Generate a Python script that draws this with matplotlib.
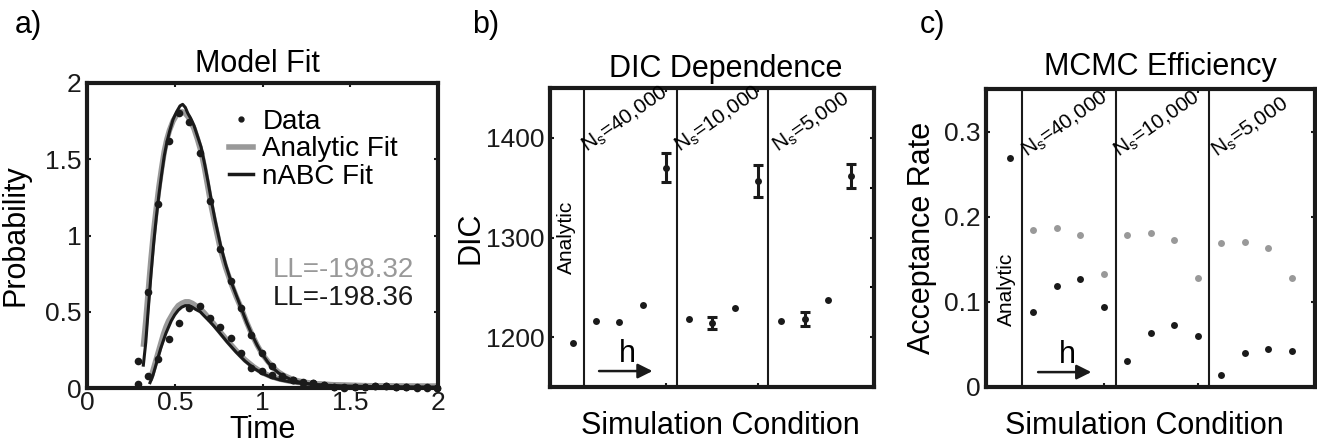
import matplotlib
matplotlib.use("Agg")
import matplotlib.pyplot as plt
import numpy as np

plt.rcParams['font.family'] = ['Liberation Sans', 'DejaVu Sans']
plt.rcParams['mathtext.fontset'] = 'custom'
plt.rcParams['mathtext.rm'] = 'Liberation Sans'

# ---------------- Panel a data ----------------
t_data = [0.289, 0.348, 0.407, 0.466, 0.525, 0.584, 0.642, 0.701, 0.760, 0.819,
          0.878, 0.937, 0.996, 1.055, 1.113, 1.172, 1.231, 1.290, 1.349, 1.408,
          1.467, 1.526, 1.584, 1.643, 1.702, 1.761, 1.820, 1.879, 1.938, 1.997]
upper_data = [0.179, 0.627, 1.207, 1.620, 1.801, 1.742, 1.543, 1.228, 0.914, 0.704,
              0.522, 0.348, 0.232, 0.144, 0.081, 0.053, 0.035, 0.030, 0.019, 0.008,
              0.004, 0.006, 0.004, 0.013, 0.011, 0.006, 0.006, 0.004, 0.004, 0.000]
lower_data = [0.024, 0.079, 0.188, 0.321, 0.424, 0.525, 0.538, 0.457, 0.402, 0.326,
              0.227, 0.133, 0.114, 0.085, 0.074, 0.050, 0.039, 0.033, 0.017, 0.007,
              0.002, 0.006, 0.006, 0.013, 0.013, 0.006, 0.006, 0.002, 0.002, 0.000]

t_up = [0.321, 0.335, 0.348, 0.365, 0.38, 0.395, 0.41, 0.425, 0.44, 0.455, 0.47, 0.49,
        0.51, 0.53, 0.545, 0.56, 0.575, 0.59, 0.61, 0.63, 0.65, 0.67, 0.69, 0.71, 0.73,
        0.76, 0.79, 0.82, 0.85, 0.88, 0.91, 0.94, 0.97, 1.00, 1.03, 1.06, 1.09, 1.12,
        1.16, 1.20, 1.25, 1.30, 1.40, 1.50, 1.60, 1.80, 2.00]
upper_analytic = [0.27, 0.44, 0.62, 0.85, 1.03, 1.18, 1.32, 1.44, 1.55, 1.63, 1.69, 1.75,
                  1.79, 1.81, 1.81, 1.80, 1.78, 1.75, 1.70, 1.63, 1.55, 1.44, 1.31, 1.18, 1.07,
                  0.91, 0.79, 0.69, 0.60, 0.52, 0.43, 0.35, 0.28, 0.22, 0.175, 0.135, 0.105, 0.083,
                  0.062, 0.047, 0.036, 0.028, 0.020, 0.016, 0.014, 0.012, 0.011]
upper_nabc = [0.15, 0.30, 0.50, 0.75, 0.95, 1.12, 1.27, 1.40, 1.52, 1.61, 1.68, 1.76,
              1.81, 1.85, 1.86, 1.84, 1.80, 1.77, 1.72, 1.65, 1.58, 1.47, 1.35, 1.22, 1.10,
              0.94, 0.81, 0.70, 0.61, 0.52, 0.43, 0.35, 0.28, 0.22, 0.17, 0.13, 0.10, 0.078,
              0.057, 0.042, 0.030, 0.022, 0.013, 0.009, 0.007, 0.005, 0.004]

t_low = [0.359, 0.375, 0.39, 0.405, 0.42, 0.435, 0.45, 0.465, 0.48, 0.50, 0.52, 0.54,
         0.56, 0.58, 0.60, 0.62, 0.645, 0.67, 0.70, 0.72, 0.75, 0.80, 0.85, 0.90, 0.95,
         1.00, 1.05, 1.10, 1.15, 1.20, 1.27, 1.35, 1.45, 1.60, 1.80, 2.00]
lower_analytic = [0.05, 0.11, 0.17, 0.23, 0.29, 0.35, 0.40, 0.44, 0.47, 0.51, 0.54, 0.555,
                  0.565, 0.565, 0.555, 0.54, 0.52, 0.49, 0.45, 0.424, 0.38, 0.31, 0.245, 0.185, 0.138,
                  0.10, 0.075, 0.058, 0.046, 0.037, 0.030, 0.024, 0.019, 0.015, 0.012, 0.011]
lower_nabc = [0.035, 0.08, 0.14, 0.20, 0.26, 0.31, 0.36, 0.40, 0.44, 0.48, 0.51, 0.53,
              0.54, 0.54, 0.53, 0.515, 0.50, 0.47, 0.435, 0.41, 0.37, 0.30, 0.235, 0.177, 0.13,
              0.095, 0.07, 0.053, 0.042, 0.033, 0.025, 0.019, 0.014, 0.010, 0.007, 0.005]

ll_analytic = "LL=-198.32"
ll_nabc = "LL=-198.36"

# ---------------- Panel b / c data ----------------
cond_pos = [1, 2, 3, 4, 5, 6, 7, 8, 9, 10, 11, 12, 13]
dic_vals = [1194.3, 1216.7, 1215.1, 1232.5, 1370.2, 1218.4, 1214.4, 1229.1,
            1356.4, 1216.7, 1218.4, 1236.8, 1361.4]
dic_err = [0, 0, 0, 0, 15, 0, 6, 0, 16, 0, 7, 0, 12]

acc_pos_analytic = [1]
acc_analytic = [0.2687]
acc_pos = [2, 3, 4, 5, 6, 7, 8, 9, 10, 11, 12, 13]
acc_gray = [0.1844, 0.1863, 0.1785, 0.1326, 0.1785, 0.1804, 0.1726, 0.1283,
            0.1687, 0.1706, 0.1628, 0.1283]
acc_black = [0.0882, 0.1185, 0.1263, 0.0941, 0.0302, 0.0640, 0.0726, 0.0600,
             0.0138, 0.0405, 0.0444, 0.0424]

group_labels = ["N$_\\mathrm{s}$=40,000", "N$_\\mathrm{s}$=10,000", "N$_\\mathrm{s}$=5,000"]

GRAY = '#999999'
BLACK = '#1a1a1a'
W, H = 1317, 443

fig = plt.figure(figsize=(W / 100, H / 100), dpi=100)


def rect(l, r, t, b):
    return [l / W, (H - b) / H, (r - l) / W, (b - t) / H]


def style_axes(ax):
    for s in ax.spines.values():
        s.set_linewidth(3.0)
        s.set_color(BLACK)
    ax.tick_params(direction='in', length=3, width=1.5, top=True, right=True,
                   labelsize=19, pad=4, colors=BLACK)


# ---------- a ----------
axa = fig.add_axes(rect(87, 438, 83, 388))
style_axes(axa)
axa.plot(t_up, upper_analytic, color=GRAY, lw=4.0, solid_capstyle='butt', zorder=2)
axa.plot(t_low, lower_analytic, color=GRAY, lw=4.0, solid_capstyle='butt', zorder=2)
axa.plot(t_up, upper_nabc, color=BLACK, lw=2.2, zorder=3)
axa.plot(t_low, lower_nabc, color=BLACK, lw=2.2, zorder=3)
axa.plot(t_data, upper_data, 'o', color=BLACK, ms=5.5, mew=0, zorder=4, clip_on=False)
axa.plot(t_data, lower_data, 'o', color=BLACK, ms=5.5, mew=0, zorder=4, clip_on=False)
axa.set_xlim(0, 2)
axa.set_ylim(0, 2)
axa.set_xticks([0, 0.5, 1, 1.5, 2])
axa.set_xticklabels(['0', '0.5', '1', '1.5', '2'])
axa.set_yticks([0, 0.5, 1, 1.5, 2])
axa.set_yticklabels(['0', '0.5', '1', '1.5', '2'])
axa.tick_params(axis='x', pad=2)
axa.set_xlabel('Time', fontsize=22)
axa.set_ylabel('Probability', fontsize=22)
axa.xaxis.set_label_coords(0.5, -0.09)
axa.yaxis.set_label_coords(-0.16, 0.5)
axa.set_title('Model Fit', fontsize=22, pad=8, x=0.487)

hd, = axa.plot([], [], 'o', color=BLACK, ms=3.5)
hg, = axa.plot([], [], color=GRAY, lw=4.0)
hb, = axa.plot([], [], color=BLACK, lw=2.5)
axa.legend([hd, hg, hb], ['Data', 'Analytic Fit', 'nABC Fit'], loc='upper left',
           bbox_to_anchor=(0.405, 0.915), frameon=False, fontsize=20,
           handlelength=0.85, handletextpad=0.35, labelspacing=0.05,
           borderpad=0, borderaxespad=0)
axa.text(0.53, 0.364, ll_analytic, transform=axa.transAxes, fontsize=20, color=GRAY, va='baseline')
axa.text(0.53, 0.272, ll_nabc, transform=axa.transAxes, fontsize=20, color=BLACK, va='baseline')
fig.text(15 / W, 1 - 33 / H, 'a)', fontsize=22, va='baseline')

# ---------- b ----------
axb = fig.add_axes(rect(550, 874, 88, 387))
style_axes(axb)
axb.plot(cond_pos, dic_vals, 'o', color=BLACK, ms=5, mew=0, zorder=4)
eb_x = [p for p, e in zip(cond_pos, dic_err) if e > 0]
eb_y = [v for v, e in zip(dic_vals, dic_err) if e > 0]
eb_e = [e for e in dic_err if e > 0]
axb.errorbar(eb_x, eb_y, yerr=eb_e, fmt='none', ecolor=BLACK, elinewidth=2.2,
             capsize=3.6, capthick=2.2, zorder=3)
axb.set_xlim(0, 14)
axb.set_ylim(1150, 1450)
axb.set_yticks([1200, 1300, 1400])
axb.set_yticklabels(['1200', '1300', '1400'])
axb.set_yticks([1250, 1350], minor=True)
axb.tick_params(which='minor', direction='in', length=3, width=1.5, right=True, left=False)
axb.set_xticks([5, 9])
axb.set_xticklabels([])
axb.set_ylabel('DIC', fontsize=22)
axb.yaxis.set_label_coords(-0.2, 0.5)
axb.set_xlabel('Simulation Condition', fontsize=22)
axb.xaxis.set_label_coords(0.525, -0.08)
axb.set_title('DIC Dependence', fontsize=22, pad=8, x=0.543)
for xv in [1.45, 5.5, 9.42]:
    axb.axvline(xv, color=BLACK, lw=1.5)
axb.text(0.72, 1300, 'Analytic', rotation=90, fontsize=15, ha='center', va='center')
for xg, lab in zip([1.57, 5.6, 9.84], group_labels):
    axb.text(xg, 1385, lab, rotation=35, rotation_mode='anchor', fontsize=15,
             ha='left', va='baseline')
axb.annotate('', xy=(4.55, 1166), xytext=(2.0, 1166),
             arrowprops=dict(arrowstyle='-|>', color=BLACK, lw=1.8, mutation_scale=22))
axb.text(3.35, 1175, 'h', fontsize=22, ha='center', va='baseline')
fig.text(472 / W, 1 - 33 / H, 'b)', fontsize=22, va='baseline')

# ---------- c ----------
axc = fig.add_axes(rect(986, 1315, 89, 387))
style_axes(axc)
axc.plot(acc_pos_analytic, acc_analytic, 'o', color=BLACK, ms=5, mew=0, zorder=4)
axc.plot(acc_pos, acc_gray, 'o', color=GRAY, ms=5, mew=0, zorder=4)
axc.plot(acc_pos, acc_black, 'o', color=BLACK, ms=5, mew=0, zorder=4)
axc.set_xlim(0, 14)
axc.set_ylim(0, 0.35)
axc.set_yticks([0, 0.1, 0.2, 0.3])
axc.set_yticklabels(['0', '0.1', '0.2', '0.3'])
axc.set_xticks([5, 9])
axc.set_xticklabels([])
axc.set_ylabel('Acceptance Rate', fontsize=22)
axc.yaxis.set_label_coords(-0.15, 0.5)
axc.set_xlabel('Simulation Condition', fontsize=22)
axc.xaxis.set_label_coords(0.48, -0.08)
axc.set_title('MCMC Efficiency', fontsize=22, pad=10, x=0.529)
for xv in [1.55, 5.53, 9.5]:
    axc.axvline(xv, color=BLACK, lw=1.5)
axc.text(0.85, 0.115, 'Analytic', rotation=90, fontsize=15, ha='center', va='center')
for xg, lab in zip([1.75, 5.64, 9.8], group_labels):
    axc.text(xg, 0.27, lab, rotation=35, rotation_mode='anchor', fontsize=15,
             ha='left', va='baseline')
axc.annotate('', xy=(4.6, 0.0175), xytext=(2.1, 0.0175),
             arrowprops=dict(arrowstyle='-|>', color=BLACK, lw=1.8, mutation_scale=22))
axc.text(3.45, 0.028, 'h', fontsize=22, ha='center', va='baseline')
fig.text(920 / W, 1 - 33 / H, 'c)', fontsize=22, va='baseline')

fig.savefig('out.png', dpi=100)
